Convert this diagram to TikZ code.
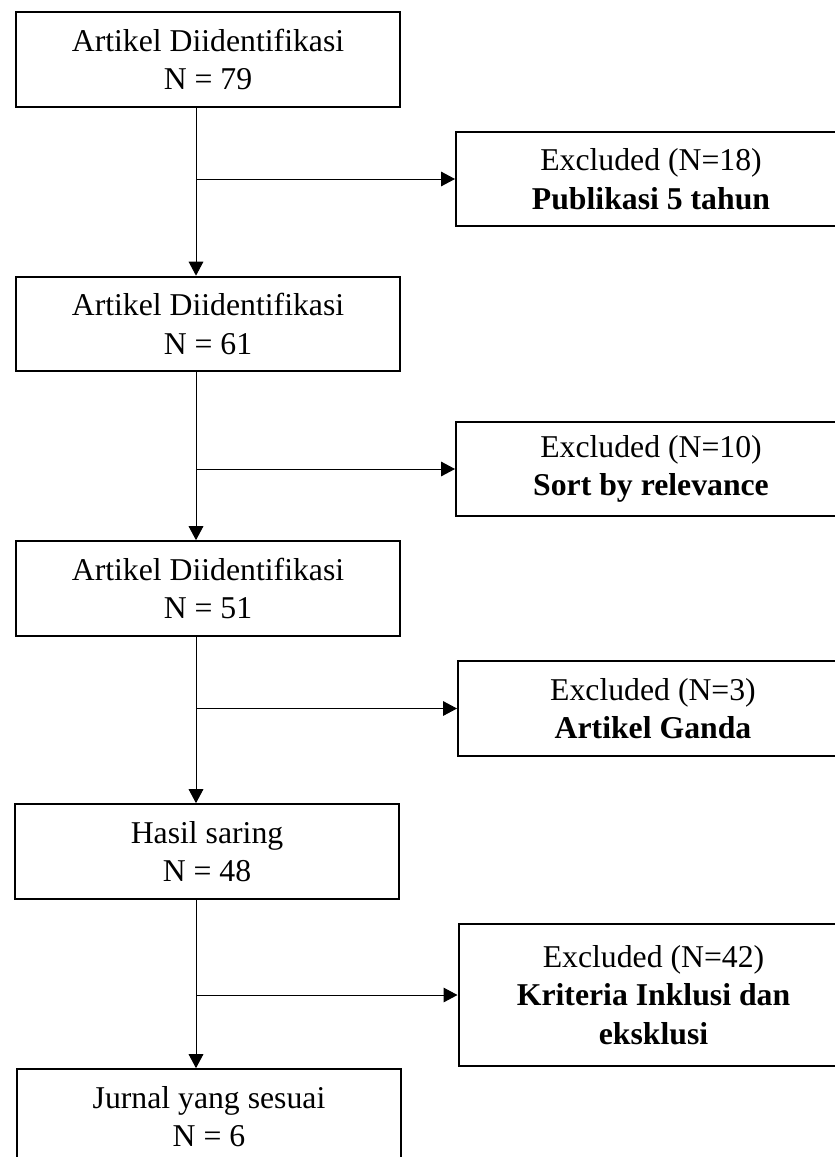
\documentclass[tikz,border=0pt]{standalone}
\usepackage{fontspec}
\setmainfont{Liberation Serif}
\usetikzlibrary{arrows.meta}

\begin{document}
\begin{tikzpicture}[x=0.75pt,y=-0.75pt,
    box/.style={draw,line width=1.5pt,minimum width=288pt,minimum height=71pt,inner sep=0pt,align=center,font=\fontsize{23.8}{28.9}\selectfont},
    exbox/.style={box,minimum width=292.5pt},
    link/.style={line width=0.75pt,-{Triangle[width=11pt,length=10.5pt]}}]
      \clip (0,0) rectangle (835,1157);
      \coordinate (spine) at (196,0);
      \node[box] (b1) at (208,59.5) {Artikel Diidentifikasi\\N = 79};
      \node[box] (b2) at (208,324) {Artikel Diidentifikasi\\N = 61};
      \node[box] (b3) at (208,588.5) {Artikel Diidentifikasi\\N = 51};
      \node[box] (b4) at (207,851.5) {Hasil saring\\N = 48};
      \node[box] (b5) at (209,1116.5) {Jurnal yang sesuai\\N = 6};
      \node[exbox] (e1) at (651,179) {Excluded (N=18)\\\textbf{Publikasi 5 tahun}};
      \node[exbox] (e2) at (651,469) {Excluded (N=10)\\\textbf{Sort by relevance}};
      \node[exbox] (e3) at (653,708.5) {Excluded (N=3)\\\textbf{Artikel Ganda}};
      \node[exbox,minimum height=107pt] (e4) at (653.5,995) {Excluded (N=42)\\\textbf{Kriteria Inklusi dan}\\\textbf{eksklusi}};
      \draw[link] (b1.south -| spine) -- (b2.north -| spine);
      \draw[link] (b2.south -| spine) -- (b3.north -| spine);
      \draw[link] (b3.south -| spine) -- (b4.north -| spine);
      \draw[link] (b4.south -| spine) -- (b5.north -| spine);
      \draw[link] (spine |- e1.west) -- (e1.west);
      \draw[link] (spine |- e2.west) -- (e2.west);
      \draw[link] (spine |- e3.west) -- (e3.west);
      \draw[link] (spine |- e4.west) -- (e4.west);
    \end{tikzpicture}
\end{document}
